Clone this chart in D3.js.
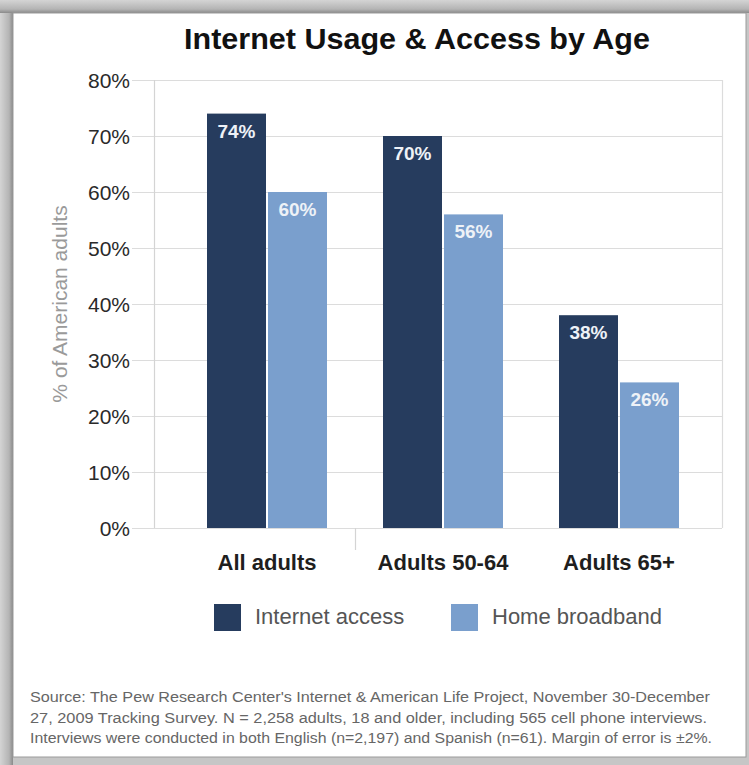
<!DOCTYPE html>
<html>
<head>
<meta charset="utf-8">
<script src="https://cdn.jsdelivr.net/npm/d3@7"></script>
<style>
  html, body { margin: 0; padding: 0; background: #fff; }
  svg { display: block; font-family: "Liberation Sans", Arial, sans-serif; }
</style>
</head>
<body>
<svg id="chart" width="749" height="765"></svg>
<script>
// ---- data ----
const categories = ["All adults", "Adults 50-64", "Adults 65+"];
const seriesNames = ["Internet access", "Home broadband"];
const internetAccess = [74, 70, 38];
const homeBroadband = [60, 56, 26];
const yTicks = [0, 10, 20, 30, 40, 50, 60, 70, 80];
const titleText = "Internet Usage & Access by Age";
const yAxisTitle = "% of American adults";
const sourceLines = [
  "Source: The Pew Research Center's Internet & American Life Project, November 30-December",
  "27, 2009 Tracking Survey. N = 2,258 adults, 18 and older, including 565 cell phone interviews.",
  "Interviews were conducted in both English (n=2,197) and Spanish (n=61). Margin of error is \u00b12%."
];
const colors = ["#263c5e", "#7a9fcd"];

const seriesValues = [internetAccess, homeBroadband];
const rows = categories.map((c, i) => ({
  category: c,
  values: seriesNames.map((s, j) => ({ series: s, value: seriesValues[j][i], idx: j }))
}));

const svg = d3.select("#chart");
const W = 749, H = 765;

// ---- frame ----
const defs = svg.append("defs");
const gl = defs.append("linearGradient").attr("id", "gl").attr("x1", "0").attr("x2", "1");
gl.append("stop").attr("offset", "0").attr("stop-color", "#d4d4d4");
gl.append("stop").attr("offset", "0.7").attr("stop-color", "#b4b4b4");
gl.append("stop").attr("offset", "1").attr("stop-color", "#8a8a8a");
const gt = defs.append("linearGradient").attr("id", "gt").attr("x1", "0").attr("x2", "0").attr("y1", "0").attr("y2", "1");
gt.append("stop").attr("offset", "0").attr("stop-color", "#d4d4d4");
gt.append("stop").attr("offset", "0.7").attr("stop-color", "#b4b4b4");
gt.append("stop").attr("offset", "1").attr("stop-color", "#8a8a8a");

svg.append("rect").attr("x", 0).attr("y", 0).attr("width", W).attr("height", H).attr("fill", "#c6c6c6");
svg.append("rect").attr("x", 0).attr("y", 0).attr("width", 13).attr("height", H).attr("fill", "url(#gl)");
svg.append("rect").attr("x", 0).attr("y", 0).attr("width", W).attr("height", 13).attr("fill", "url(#gt)");
svg.append("rect").attr("x", 13).attr("y", 13).attr("width", 733).attr("height", 744)
  .attr("fill", "#fff").attr("stroke", "#9a9a9a").attr("stroke-width", 1);

// ---- scales ----
const plot = { left: 154, right: 722, top: 80, bottom: 528 };
const y = d3.scaleLinear().domain([0, 80]).range([plot.bottom, plot.top]);
const x0 = d3.scaleBand().domain(categories).range([179, 707]).padding(0);
const x1 = d3.scaleBand().domain(seriesNames).range([0, 120]).paddingInner(0.033);
const groupOffset = (x0.bandwidth() - 120) / 2;

// ---- title ----
svg.append("text")
  .attr("x", 417).attr("y", 49)
  .attr("text-anchor", "middle")
  .attr("font-size", 30).attr("font-weight", "bold").attr("fill", "#111")
  .attr("textLength", 466).attr("lengthAdjust", "spacingAndGlyphs")
  .text(titleText);

// ---- grid ----
const grid = svg.append("g");
grid.selectAll("line.grid").data(yTicks).join("line")
  .attr("class", "grid")
  .attr("x1", plot.left - 22).attr("x2", plot.right)
  .attr("y1", d => y(d) + 0.5).attr("y2", d => y(d) + 0.5)
  .attr("stroke", "#dcdcdc").attr("stroke-width", 1.2);
grid.append("line")
  .attr("x1", plot.left + 0.5).attr("x2", plot.left + 0.5)
  .attr("y1", plot.top).attr("y2", plot.bottom)
  .attr("stroke", "#d4d4d4").attr("stroke-width", 1.2);
grid.append("line")
  .attr("x1", plot.right + 0.5).attr("x2", plot.right + 0.5)
  .attr("y1", plot.top).attr("y2", plot.bottom)
  .attr("stroke", "#dcdcdc").attr("stroke-width", 1.2);
// category separator tick
grid.append("line")
  .attr("x1", x0(categories[1]) + 0.5).attr("x2", x0(categories[1]) + 0.5)
  .attr("y1", plot.bottom).attr("y2", plot.bottom + 22)
  .attr("stroke", "#d4d4d4").attr("stroke-width", 1.2);

// ---- y axis labels ----
const yAxis = d3.axisLeft(y).tickValues(yTicks).tickFormat(d => d + "%").tickSize(0).tickPadding(0);
const yg = svg.append("g").attr("transform", `translate(${plot.left - 24},0)`).call(yAxis);
yg.select(".domain").remove();
yg.selectAll("text")
  .attr("font-family", "Liberation Sans, Arial, sans-serif")
  .attr("font-size", 21).attr("fill", "#2a2a2a").attr("dy", "0.36em");

svg.append("text")
  .attr("transform", `translate(67,${(plot.top + plot.bottom) / 2}) rotate(-90)`)
  .attr("text-anchor", "middle")
  .attr("font-size", 21).attr("fill", "#9a9a9a")
  .text(yAxisTitle);

// ---- bars ----
const groups = svg.append("g").selectAll("g").data(rows).join("g")
  .attr("transform", d => `translate(${x0(d.category) + groupOffset},0)`);
groups.selectAll("rect").data(d => d.values).join("rect")
  .attr("x", d => x1(d.series))
  .attr("y", d => y(d.value))
  .attr("width", x1.bandwidth())
  .attr("height", d => y(0) - y(d.value))
  .attr("fill", d => colors[d.idx]);
groups.selectAll("text").data(d => d.values).join("text")
  .attr("x", d => x1(d.series) + x1.bandwidth() / 2)
  .attr("y", d => y(d.value) + 24)
  .attr("text-anchor", "middle")
  .attr("font-size", 19).attr("font-weight", "bold").attr("fill", "#eef2f7")
  .text(d => d.value + "%");

// ---- x axis labels ----
const xAxis = d3.axisBottom(x0).tickSize(0).tickPadding(0);
const xg = svg.append("g").attr("transform", `translate(0,${plot.bottom})`).call(xAxis);
xg.select(".domain").remove();
xg.selectAll("text")
  .attr("font-family", "Liberation Sans, Arial, sans-serif")
  .attr("font-size", 22).attr("font-weight", "bold").attr("fill", "#1e1e1e")
  .attr("dy", 0).attr("y", 42);

// ---- legend ----
const legendX = [214, 451];
const leg = svg.append("g").selectAll("g").data(seriesNames).join("g")
  .attr("transform", (d, i) => `translate(${legendX[i]},604)`);
leg.append("rect").attr("width", 27).attr("height", 27).attr("fill", (d, i) => colors[i]);
leg.append("text").attr("x", 41).attr("y", 20)
  .attr("font-size", 22).attr("fill", "#555")
  .text(d => d);

// ---- source ----
const sourceWidths = [680, 677, 682];
svg.append("g").selectAll("text").data(sourceLines).join("text")
  .attr("x", 30).attr("y", (d, i) => 702 + i * 20.5)
  .attr("font-size", 15.5).attr("fill", "#666")
  .attr("textLength", (d, i) => sourceWidths[i]).attr("lengthAdjust", "spacingAndGlyphs")
  .text(d => d);
</script>
</body>
</html>
